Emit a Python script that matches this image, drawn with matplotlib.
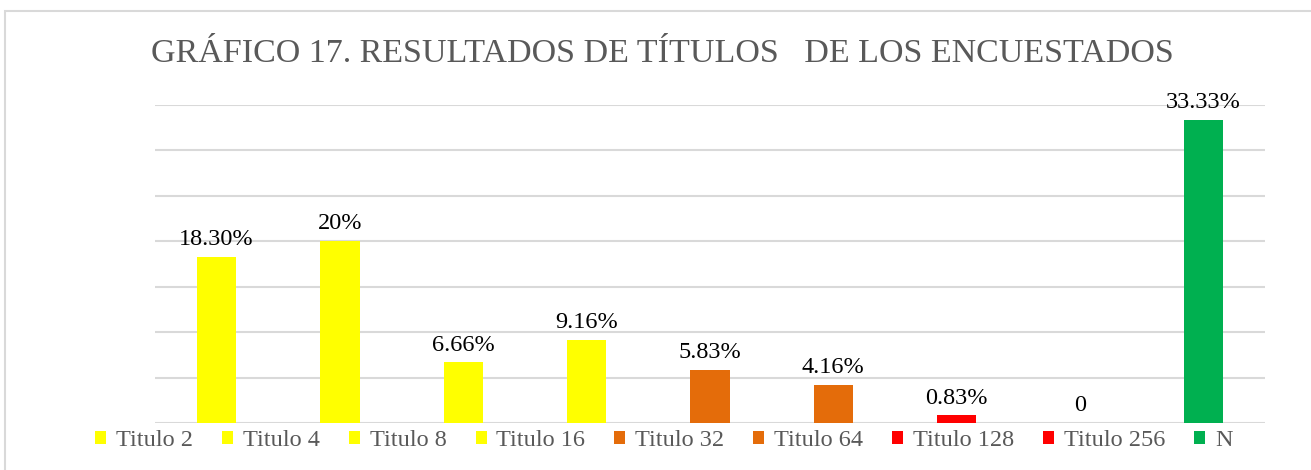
import matplotlib
matplotlib.use("Agg")
import matplotlib.pyplot as plt
from matplotlib.patches import Rectangle, Patch

categories = ["Titulo 2", "Titulo 4", "Titulo 8", "Titulo 16", "Titulo 32",
              "Titulo 64", "Titulo 128", "Titulo 256", "N"]
values = [18.30, 20.0, 6.66, 9.16, 5.83, 4.16, 0.83, 0.0, 33.33]
labels = ["18.30%", "20%", "6.66%", "9.16%", "5.83%", "4.16%", "0.83%", "0", "33.33%"]
colors = ["#FFFF00", "#FFFF00", "#FFFF00", "#FFFF00", "#E46C0A",
          "#E46C0A", "#FF0000", "#FF0000", "#00B050"]
title = "GRÁFICO 17. RESULTADOS DE TÍTULOS   DE LOS ENCUESTADOS"

plt.rcParams['font.family'] = ['Liberation Serif', 'DejaVu Serif']

fig = plt.figure(figsize=(13.11, 4.70), dpi=100)
# outer frame
fig.patches.append(Rectangle((5/1311, -0.1), 1.2, 1 - 11/470 + 0.1,
                             transform=fig.transFigure, fill=False,
                             edgecolor="#D9D9D9", linewidth=1.5))

ax = fig.add_axes([155/1311, 0.1, (1265-155)/1311, (423-105)/470])
x = list(range(len(categories)))
bars = ax.bar(x, values, width=0.32, color=colors, zorder=3)
ax.set_xlim(-0.5, len(categories) - 0.5)
ax.set_ylim(0, 35)
ax.set_yticks([0, 5, 10, 15, 20, 25, 30, 35])
ax.yaxis.grid(True, color="#D9D9D9", linewidth=1.5, zorder=0)
ax.set_xticks([])
ax.tick_params(left=False, labelleft=False)
for s in ax.spines.values():
    s.set_visible(False)

for xi, v, lab in zip(x, values, labels):
    ax.annotate(lab, (xi, v), xytext=(0, 5), textcoords="offset points",
                ha="center", va="bottom", fontsize=17.5, color="#000000")

fig.text(662/1311, 1 - 54/470, title, ha="center", va="center",
         fontsize=24.5, color="#595959")

handles = [Patch(facecolor=c, edgecolor="none") for c in colors]
fig.legend(handles, categories, loc="center", bbox_to_anchor=(664/1311, 1 - 441/470),
           ncol=len(categories), frameon=False, fontsize=17.5,
           labelcolor="#595959", handlelength=0.45, handleheight=0.45,
           handletextpad=0.4, columnspacing=1.2)

fig.savefig("out.png", dpi=100, facecolor="white")
